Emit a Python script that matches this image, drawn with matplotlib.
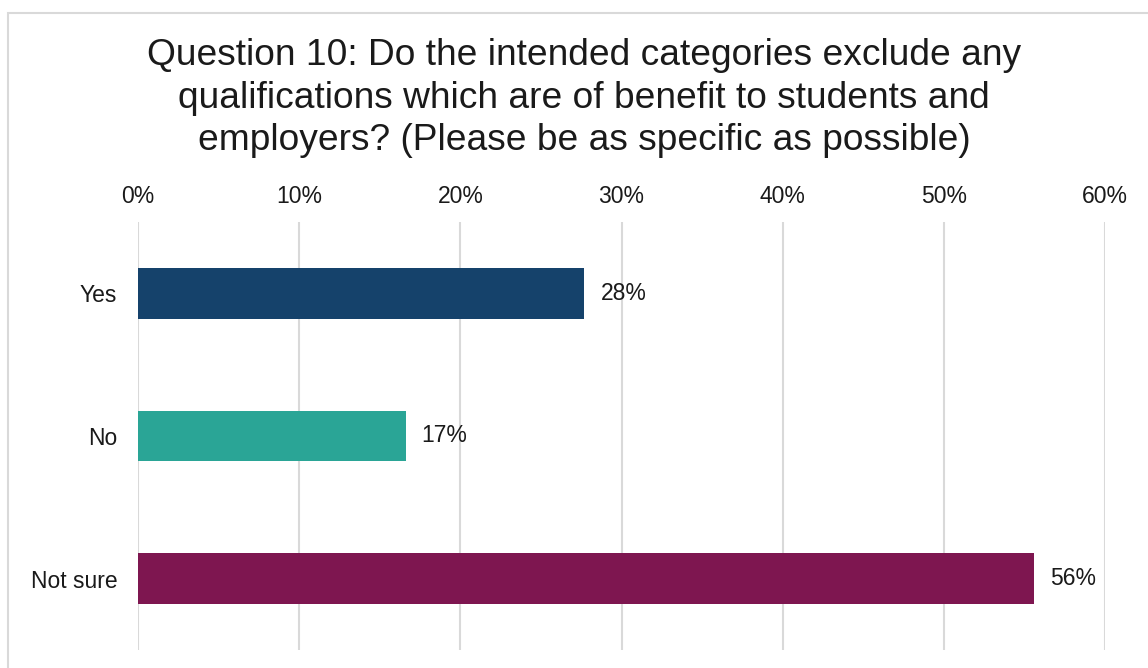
import matplotlib
matplotlib.use("Agg")
import matplotlib.pyplot as plt
import matplotlib.patches as patches

# --- datos ---
categorias = ["Yes", "No", "Not sure"]
porcentajes = [27.7, 16.6, 55.6]
colores = ["#15426b", "#2aa596", "#7e1650"]
ticks_x = [0, 10, 20, 30, 40, 50, 60]

titulo = ("Question 10: Do the intended categories exclude any\n"
          "qualifications which are of benefit to students and\n"
          "employers? (Please be as specific as possible)")

plt.rcParams["font.family"] = ["Liberation Sans", "DejaVu Sans"]

W, H = 1148, 668
fig = plt.figure(figsize=(W / 100, H / 100), dpi=100)

# marco gris alrededor del grafico (se corta a la derecha y abajo)
marco = patches.Rectangle((8 / W, -0.1), 1.2, (1 - 13 / H) + 0.1,
                          transform=fig.transFigure, fill=False,
                          edgecolor="#d9d9d9", linewidth=1.5)
fig.patches.append(marco)

ax = fig.add_axes([138 / W, 18 / H, (1105 - 138) / W, 428 / H])

pos = list(range(len(categorias)))
ax.barh(pos, porcentajes, height=0.355, color=colores, zorder=3)

for p, v in zip(pos, porcentajes):
    ax.text(v + 1.0, p, f"{v:.0f}%", va="center", ha="left",
            fontsize=16.5, color="#1a1a1a")

ax.set_xlim(0, 60)
ax.set_ylim(2.5, -0.5)
ax.set_xticks(ticks_x)
ax.set_xticklabels([f"{t}%" for t in ticks_x])
ax.set_yticks(pos)
ax.set_yticklabels(categorias)

ax.xaxis.tick_top()
ax.tick_params(axis="x", length=0, pad=10, labelsize=16.5, labelcolor="#1a1a1a")
ax.tick_params(axis="y", length=0, pad=15, labelsize=16.5, labelcolor="#1a1a1a")

ax.grid(axis="x", color="#d9d9d9", linewidth=1.5, zorder=0)
for lado in ax.spines.values():
    lado.set_visible(False)

fig.text(584 / W, 1 - 98 / H, titulo, ha="center", va="center",
         fontsize=26.7, linespacing=1.27, color="#1a1a1a")

fig.savefig("out.png", dpi=100, facecolor="white")
